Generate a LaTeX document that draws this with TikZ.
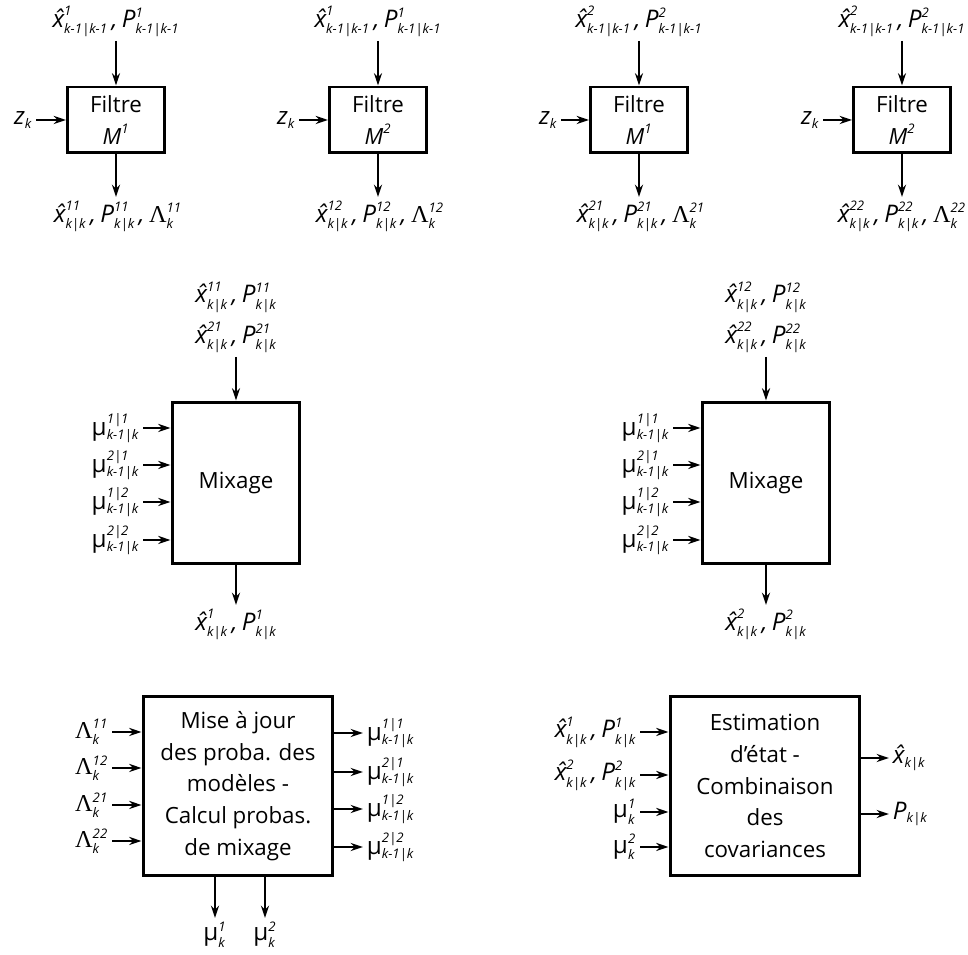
\documentclass[tikz,border=0pt]{standalone}
\usepackage{fontspec}
\setmainfont{Open Sans}
\newfontfamily\lamfont{Liberation Serif}
\usetikzlibrary{arrows.meta}

\newcommand{\supsz}{\fontsize{7.5}{9}\selectfont\itshape}
\newcommand{\lbl}[3]{\ensuremath{\mbox{#1}^{\mbox{\supsz #2}}_{\mbox{\supsz #3}}}}
\newcommand{\lsup}[2]{\ensuremath{\mbox{#1}^{\mbox{\supsz #2}}}}
\newcommand{\lsub}[2]{\ensuremath{\mbox{#1}_{\mbox{\supsz #2}}}}
\newcommand{\xh}{\^{x}}
\newcommand{\Lam}{{\lamfont\upshape Λ}}
\newcommand{\mug}{{\upshape μ}}
\newcommand{\cma}{\kern2pt,\kern2.5pt}

\begin{document}
\begin{tikzpicture}[
	x=0.02cm, y=-0.02cm,
	every node/.style={font=\fontsize{12.7}{18}\selectfont},
	blk/.style={draw, line width=1.7pt, align=center, inner sep=2pt},
	filt/.style={blk, minimum width=1.94cm, minimum height=1.32cm},
	mixb/.style={blk, minimum width=2.56cm, minimum height=3.24cm},
	bigb/.style={blk, minimum width=3.8cm, minimum height=3.6cm},
	lab/.style={font=\fontsize{13.8}{15}\selectfont\itshape, inner sep=2pt},
	arr/.style={-{Stealth[length=7pt,width=4.6pt]}, line width=1.15pt}
]
\useasboundingbox (0,0) rectangle (968,955);

% filtres
\node[filt] (f1) at (116,120) {Filtre\\ \lsup{\itshape M}{1}};
\node[filt] (f2) at (378,120) {Filtre\\ \lsup{\itshape M}{2}};
\node[filt] (f3) at (639,120) {Filtre\\ \lsup{\itshape M}{1}};
\node[filt] (f4) at (902,120) {Filtre\\ \lsup{\itshape M}{2}};

\node[lab, anchor=south] (in1) at (116,41) {\lbl{\xh}{1}{k-1|k-1}\cma\lbl{P}{1}{k-1|k-1}};
\node[lab, anchor=south] (in2) at (378,41) {\lbl{\xh}{1}{k-1|k-1}\cma\lbl{P}{1}{k-1|k-1}};
\node[lab, anchor=south] (in3) at (639,41) {\lbl{\xh}{2}{k-1|k-1}\cma\lbl{P}{2}{k-1|k-1}};
\node[lab, anchor=south] (in4) at (902,41) {\lbl{\xh}{2}{k-1|k-1}\cma\lbl{P}{2}{k-1|k-1}};

\node[lab, anchor=north] (out1) at (118,197) {\lbl{\xh}{11}{k|k}\cma\lbl{P}{11}{k|k}\cma\lbl{\Lam}{11}{k}};
\node[lab, anchor=north] (out2) at (380,197) {\lbl{\xh}{12}{k|k}\cma\lbl{P}{12}{k|k}\cma\lbl{\Lam}{12}{k}};
\node[lab, anchor=north] (out3) at (641,197) {\lbl{\xh}{21}{k|k}\cma\lbl{P}{21}{k|k}\cma\lbl{\Lam}{21}{k}};
\node[lab, anchor=north] (out4) at (902,197) {\lbl{\xh}{22}{k|k}\cma\lbl{P}{22}{k|k}\cma\lbl{\Lam}{22}{k}};

\node[lab, anchor=east] (z1) at (36,120) {\lsub{z}{k}};
\node[lab, anchor=east] (z2) at (299,120) {\lsub{z}{k}};
\node[lab, anchor=east] (z3) at (561,120) {\lsub{z}{k}};
\node[lab, anchor=east] (z4) at (823,120) {\lsub{z}{k}};

\draw[arr] (in1) -- (f1);
\draw[arr] (in2) -- (f2);
\draw[arr] (in3) -- (f3);
\draw[arr] (in4) -- (f4);
\draw[arr] (f1.south) -- (f1.south |- out1.north);
\draw[arr] (f2.south) -- (f2.south |- out2.north);
\draw[arr] (f3.south) -- (f3.south |- out3.north);
\draw[arr] (f4.south) -- (f4.south |- out4.north);
\draw[arr] (z1) -- (z1 -| f1.west);
\draw[arr] (z2) -- (z2 -| f2.west);
\draw[arr] (z3) -- (z3 -| f3.west);
\draw[arr] (z4) -- (z4 -| f4.west);

% mixage
\node[mixb] (mix1) at (236,483) {Mixage};
\node[mixb] (mix2) at (766,483) {Mixage};

\node[lab] (mt11) at (236,297) {\lbl{\xh}{11}{k|k}\cma\lbl{P}{11}{k|k}};
\node[lab, anchor=south] (mt21) at (236,357) {\lbl{\xh}{21}{k|k}\cma\lbl{P}{21}{k|k}};
\node[lab] (mt12) at (766,297) {\lbl{\xh}{12}{k|k}\cma\lbl{P}{12}{k|k}};
\node[lab, anchor=south] (mt22) at (766,357) {\lbl{\xh}{22}{k|k}\cma\lbl{P}{22}{k|k}};

\node[lab, anchor=north] (mo1) at (236,605) {\lbl{\xh}{1}{k|k}\cma\lbl{P}{1}{k|k}};
\node[lab, anchor=north] (mo2) at (766,605) {\lbl{\xh}{2}{k|k}\cma\lbl{P}{2}{k|k}};

\node[lab, anchor=east] (ma1) at (143,428) {\lbl{\mug}{1|1}{k-1|k}};
\node[lab, anchor=east] (ma2) at (143,465) {\lbl{\mug}{2|1}{k-1|k}};
\node[lab, anchor=east] (ma3) at (143,502) {\lbl{\mug}{1|2}{k-1|k}};
\node[lab, anchor=east] (ma4) at (143,540) {\lbl{\mug}{2|2}{k-1|k}};
\node[lab, anchor=east] (mb1) at (673,428) {\lbl{\mug}{1|1}{k-1|k}};
\node[lab, anchor=east] (mb2) at (673,465) {\lbl{\mug}{2|1}{k-1|k}};
\node[lab, anchor=east] (mb3) at (673,502) {\lbl{\mug}{1|2}{k-1|k}};
\node[lab, anchor=east] (mb4) at (673,540) {\lbl{\mug}{2|2}{k-1|k}};

\draw[arr] (mt21) -- (mix1);
\draw[arr] (mt22) -- (mix2);
\draw[arr] (mix1) -- (mo1);
\draw[arr] (mix2) -- (mo2);
\draw[arr] (ma1) -- (ma1 -| mix1.west);
\draw[arr] (ma2) -- (ma2 -| mix1.west);
\draw[arr] (ma3) -- (ma3 -| mix1.west);
\draw[arr] (ma4) -- (ma4 -| mix1.west);
\draw[arr] (mb1) -- (mb1 -| mix2.west);
\draw[arr] (mb2) -- (mb2 -| mix2.west);
\draw[arr] (mb3) -- (mb3 -| mix2.west);
\draw[arr] (mb4) -- (mb4 -| mix2.west);

% mise a jour des probas
\node[bigb] (upd) at (238,786) {Mise à jour\\ des proba. des\\ modèles -\\ Calcul probas.\\ de mixage};

\node[lab, anchor=east] (l11) at (112,732) {\lbl{\Lam}{11}{k}};
\node[lab, anchor=east] (l12) at (112,768) {\lbl{\Lam}{12}{k}};
\node[lab, anchor=east] (l21) at (112,805) {\lbl{\Lam}{21}{k}};
\node[lab, anchor=east] (l22) at (112,841) {\lbl{\Lam}{22}{k}};

\node[lab, anchor=west] (pr1) at (363,733) {\lbl{\mug}{1|1}{k-1|k}};
\node[lab, anchor=west] (pr2) at (363,772) {\lbl{\mug}{2|1}{k-1|k}};
\node[lab, anchor=west] (pr3) at (363,809) {\lbl{\mug}{1|2}{k-1|k}};
\node[lab, anchor=west] (pr4) at (363,847) {\lbl{\mug}{2|2}{k-1|k}};

\node[lab, anchor=north] (pm1) at (215,918) {\lbl{\mug}{1}{k}};
\node[lab, anchor=north] (pm2) at (265,918) {\lbl{\mug}{2}{k}};

\draw[arr] (l11) -- (l11 -| upd.west);
\draw[arr] (l12) -- (l12 -| upd.west);
\draw[arr] (l21) -- (l21 -| upd.west);
\draw[arr] (l22) -- (l22 -| upd.west);
\draw[arr] (pr1 -| upd.east) -- (pr1);
\draw[arr] (pr2 -| upd.east) -- (pr2);
\draw[arr] (pr3 -| upd.east) -- (pr3);
\draw[arr] (pr4 -| upd.east) -- (pr4);
\draw[arr] (upd.south -| pm1) -- (pm1);
\draw[arr] (upd.south -| pm2) -- (pm2);

% estimation
\node[bigb] (est) at (765,786) {Estimation\\ d’état -\\ Combinaison\\ des\\ covariances};

\node[lab, anchor=east] (e1) at (640,732) {\lbl{\xh}{1}{k|k}\cma\lbl{P}{1}{k|k}};
\node[lab, anchor=east] (e2) at (640,775) {\lbl{\xh}{2}{k|k}\cma\lbl{P}{2}{k|k}};
\node[lab, anchor=east] (e3) at (640,812) {\lbl{\mug}{1}{k}};
\node[lab, anchor=east] (e4) at (640,847) {\lbl{\mug}{2}{k}};

\node[lab, anchor=west] (xo) at (889,758) {\lsub{\xh}{k|k}};
\node[lab, anchor=west] (po) at (889,814) {\lsub{P}{k|k}};

\draw[arr] (e1) -- (e1 -| est.west);
\draw[arr] (e2) -- (e2 -| est.west);
\draw[arr] (e3) -- (e3 -| est.west);
\draw[arr] (e4) -- (e4 -| est.west);
\draw[arr] (xo -| est.east) -- (xo);
\draw[arr] (po -| est.east) -- (po);
\end{tikzpicture}
\end{document}
